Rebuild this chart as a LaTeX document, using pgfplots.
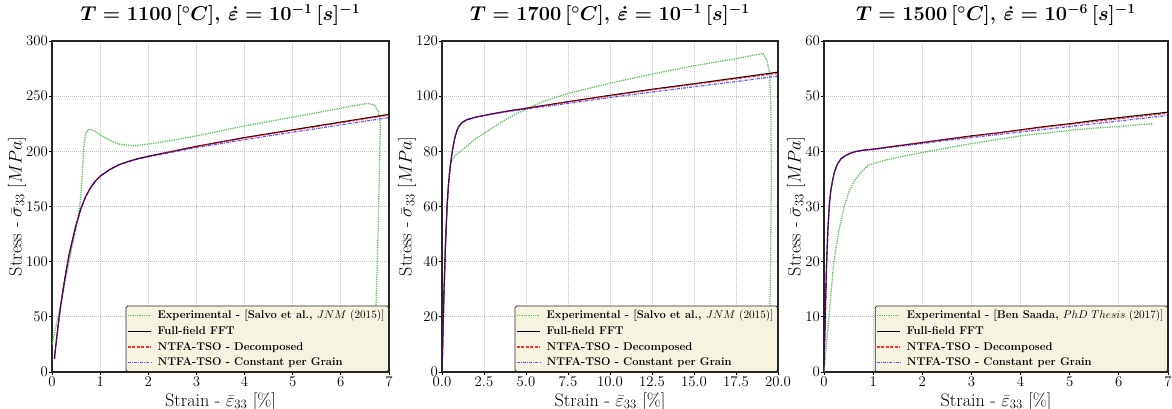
\RequirePackage{fix-cm}
\documentclass[border=0pt]{standalone}
\usepackage{pgfplots}
\pgfplotsset{compat=1.18}
\definecolor{expgreen}{rgb}{0.38,0.75,0.38}
\definecolor{legfill}{rgb}{0.965,0.957,0.878}
\definecolor{gridgray}{rgb}{0.76,0.76,0.76}
\pgfplotsset{
  every axis title shift=0pt,
  panel/.style={
    scale only axis,
    height=331pt,
    ymin=0,
    axis line style={black!85, line width=1.1pt},
    grid=major,
    major grid style={gridgray, dash pattern=on 1pt off 1pt, line width=0.8pt},
    tick align=outside,
    major tick length=3pt,
    tick style={black, line width=0.8pt},
    xtick pos=bottom, ytick pos=left,
    tick label style={font=\fontsize{14.8}{16}\selectfont},
    yticklabel style={inner sep=1pt},
    xticklabel style={inner sep=2pt},
    label style={font=\fontsize{18.2}{20}\selectfont},
    title style={font=\fontsize{20}{22}\selectfont\bfseries\boldmath, anchor=center, at={(axis description cs:0.5,1.0785)}},
    xlabel style={anchor=center, at={(axis description cs:0.5,-0.089)}},
    legend cell align=left,
    legend style={at={(axis description cs:1,0)}, anchor=south east, fill=legfill, draw=black!85, line width=0.8pt,
      rounded corners=1.5pt,
      font=\fontsize{11.2}{13}\selectfont\bfseries, inner sep=1pt, row sep=0pt, column sep=3pt,
      nodes={inner sep=3.2pt}},
    legend image code/.code={\draw[#1, sharp corners] (0pt,0pt) -- (23pt,0pt);},
    xlabel={Strain - $\bar{\varepsilon}_{33}$ [\%]},
    ylabel={Stress - $\bar{\sigma}_{33}$ $[MPa]$},
  },
  expst/.style={expgreen, densely dotted, line width=1.3pt},
  fftst/.style={black, line width=1.1pt},
  decst/.style={red, dash pattern=on 3pt off 1.5pt, line width=1.2pt, opacity=0.8},
  cpgst/.style={blue, dash pattern=on 3pt off 1.2pt on 0.8pt off 1.2pt, line width=1.2pt, opacity=0.65},
}
\begin{document}
\begin{tikzpicture}
\useasboundingbox (0,0) rectangle (1172pt,409pt);
% ---------------- Panel 1 ----------------
\begin{axis}[panel, at={(52pt,37pt)}, anchor=south west, width=337pt,
  xmin=0, xmax=7, ymax=300, xtick={0,1,...,7}, ytick={0,50,...,300},
  ylabel style={anchor=center, at={(axis description cs:-0.104,0.5)}},
  title={$T = 1100\,[^\circ C]$, $\dot{\varepsilon} = 10^{-1}\,[s]^{-1}$}]
\addplot[expst] coordinates {(0,25) (0.1,45) (0.2,65) (0.3,88) (0.4,110) (0.5,130) (0.56,145) (0.6,160) (0.63,180) (0.66,205) (0.7,216) (0.75,219.5) (0.8,220) (0.9,218) (1.0,215) (1.2,210) (1.4,206.5) (1.7,205) (2.0,206.5) (2.5,210) (3,214) (3.5,218.5) (4,223) (4.5,227) (5,231) (5.5,235) (6,239) (6.3,241.5) (6.55,243.5) (6.7,242) (6.78,236) (6.82,225) (6.8,180) (6.77,120) (6.73,60) (6.69,5)};
\addlegendentry{Experimental - [Salvo et al., \mdseries$JNM$ $(2015)]$}
\addplot[fftst] coordinates {(0.05,12) (0.1,32) (0.15,50) (0.2,66) (0.25,80) (0.3,93) (0.35,105) (0.4,115) (0.5,133) (0.6,148) (0.7,159) (0.8,167) (0.9,173) (1.0,177.5) (1.2,183.5) (1.4,188) (1.6,191) (1.8,193.5) (2.0,195.5) (2.5,200) (3,204.5) (3.5,208.5) (4,212.5) (4.5,216) (5,219.5) (5.5,223) (6,226.5) (6.5,230) (7,233.5)};
\addlegendentry{Full-field FFT}
\addplot[decst] coordinates {(0.05,12) (0.1,32) (0.15,50) (0.2,66) (0.25,80) (0.3,93) (0.35,105) (0.4,115) (0.5,133) (0.6,148) (0.7,159) (0.8,167) (0.9,173) (1.0,177.5) (1.2,183.5) (1.4,188) (1.6,191) (1.8,193.5) (2.0,195.5) (2.5,200) (3,204.3) (3.5,208.2) (4,212) (4.5,215.6) (5,219) (5.5,222.5) (6,226) (6.5,229.5) (7,232.8)};
\addlegendentry{NTFA-TSO - Decomposed}
\addplot[cpgst] coordinates {(0.05,12) (0.1,32) (0.15,50) (0.2,66) (0.25,80) (0.3,93) (0.35,105) (0.4,115) (0.5,133) (0.6,148) (0.7,159) (0.8,167) (0.9,173) (1.0,177.5) (1.2,183.5) (1.4,188) (1.6,190.8) (1.8,193.2) (2.0,195) (2.5,199.3) (3,203.3) (3.5,207) (4,210.5) (4.5,214) (5,217.3) (5.5,220.6) (6,224) (6.5,227.3) (7,230.5)};
\addlegendentry{NTFA-TSO - Constant per Grain}
\end{axis}
% ---------------- Panel 2 ----------------
\begin{axis}[panel, at={(442pt,37pt)}, anchor=south west, width=336pt,
  xmin=0, xmax=20, ymax=120, xtick={0,2.5,...,20}, ytick={0,20,...,120},
  xticklabel style={/pgf/number format/fixed, /pgf/number format/fixed zerofill, /pgf/number format/precision=1},
  ylabel style={anchor=center, at={(axis description cs:-0.104,0.5)}},
  title={$T = 1700\,[^\circ C]$, $\dot{\varepsilon} = 10^{-1}\,[s]^{-1}$}]
\addplot[expst] coordinates {(0,4) (0.1,25) (0.2,45) (0.3,60) (0.4,70) (0.5,75) (0.6,77) (0.8,78.5) (1,79.5) (1.5,82) (2,84.5) (2.5,86.5) (3,88.5) (3.5,90.5) (4,92.2) (4.5,93.8) (5,95.3) (6,98) (7.5,101) (10,104.7) (12.5,108) (15,111) (17.5,113.6) (19.1,115.5) (19.35,113) (19.5,108) (19.58,95) (19.6,70) (19.56,40) (19.5,15) (19.45,4)};
\addlegendentry{Experimental - [Salvo et al., \mdseries$JNM$ $(2015)]$}
\addplot[fftst] coordinates {(0.02,4) (0.1,25) (0.2,45) (0.3,60) (0.4,69) (0.5,75) (0.6,79.5) (0.7,83) (0.8,85.8) (0.9,87.7) (1.0,89) (1.2,90.5) (1.5,91.5) (2.0,92.4) (2.5,93) (3,93.6) (4,94.7) (5,95.6) (7.5,98) (10,100.3) (12.5,102.5) (15,104.5) (17.5,106.6) (20,108.7)};
\addlegendentry{Full-field FFT}
\addplot[decst] coordinates {(0.02,4) (0.1,25) (0.2,45) (0.3,60) (0.4,69) (0.5,75) (0.6,79.5) (0.7,83) (0.8,85.8) (0.9,87.7) (1.0,89) (1.2,90.5) (1.5,91.5) (2.0,92.4) (2.5,93) (3,93.6) (4,94.7) (5,95.6) (7.5,97.9) (10,100.1) (12.5,102.3) (15,104.3) (17.5,106.3) (20,108.3)};
\addlegendentry{NTFA-TSO - Decomposed}
\addplot[cpgst] coordinates {(0.02,4) (0.1,25) (0.2,45) (0.3,60) (0.4,69) (0.5,75) (0.6,79.5) (0.7,83) (0.8,85.8) (0.9,87.7) (1.0,89) (1.2,90.5) (1.5,91.5) (2.0,92.3) (2.5,92.9) (3,93.5) (4,94.5) (5,95.3) (7.5,97.4) (10,99.5) (12.5,101.5) (15,103.4) (17.5,105.3) (20,107.3)};
\addlegendentry{NTFA-TSO - Constant per Grain}
\end{axis}
% ---------------- Panel 3 ----------------
\begin{axis}[panel, at={(824pt,37pt)}, anchor=south west, width=344pt,
  xmin=0, xmax=7, ymax=60, xtick={0,1,...,7}, ytick={0,10,...,60},
  ylabel style={anchor=center, at={(axis description cs:-0.081,0.5)}},
  title={$T = 1500\,[^\circ C]$, $\dot{\varepsilon} = 10^{-6}\,[s]^{-1}$}]
\addplot[expst] coordinates {(0,0) (0.05,5) (0.1,10) (0.15,15) (0.2,20) (0.3,25.5) (0.41,30) (0.5,32.5) (0.6,34.4) (0.7,35.6) (0.8,36.6) (0.9,37.5) (1.2,38.3) (1.5,38.9) (2,39.8) (2.5,40.6) (3,41.4) (3.5,42.1) (4,42.8) (4.5,43.3) (5,43.8) (5.5,44.2) (6,44.5) (6.4,44.8) (6.7,45)};
\addlegendentry{Experimental - [Ben Saada, \mdseries$PhD\ Thesis$ $(2017)]$}
\addplot[fftst] coordinates {(0,1) (0.02,8) (0.05,19) (0.08,26) (0.11,30.5) (0.14,33) (0.18,35) (0.22,36.5) (0.28,37.8) (0.35,38.7) (0.45,39.3) (0.55,39.7) (0.66,40) (0.8,40.2) (1.0,40.4) (1.5,41) (2,41.6) (2.5,42.2) (3,42.8) (3.5,43.3) (4,43.9) (4.5,44.5) (5,45) (5.5,45.6) (6,46.1) (6.5,46.6) (7,47.1)};
\addlegendentry{Full-field FFT}
\addplot[decst] coordinates {(0,1) (0.02,8) (0.05,19) (0.08,26) (0.11,30.5) (0.14,33) (0.18,35) (0.22,36.5) (0.28,37.8) (0.35,38.7) (0.45,39.3) (0.55,39.7) (0.66,40) (0.8,40.2) (1.0,40.4) (1.5,41) (2,41.6) (2.5,42.2) (3,42.7) (3.5,43.3) (4,43.8) (4.5,44.4) (5,44.9) (5.5,45.4) (6,45.9) (6.5,46.4) (7,46.9)};
\addlegendentry{NTFA-TSO - Decomposed}
\addplot[cpgst] coordinates {(0,1) (0.02,8) (0.05,19) (0.08,26) (0.11,30.5) (0.14,33) (0.18,35) (0.22,36.5) (0.28,37.8) (0.35,38.7) (0.45,39.3) (0.55,39.7) (0.66,40) (0.8,40.2) (1.0,40.3) (1.5,40.9) (2,41.4) (2.5,42) (3,42.5) (3.5,43) (4,43.5) (4.5,44) (5,44.5) (5.5,45) (6,45.5) (6.5,46) (7,46.5)};
\addlegendentry{NTFA-TSO - Constant per Grain}
\end{axis}
\end{tikzpicture}
\end{document}
